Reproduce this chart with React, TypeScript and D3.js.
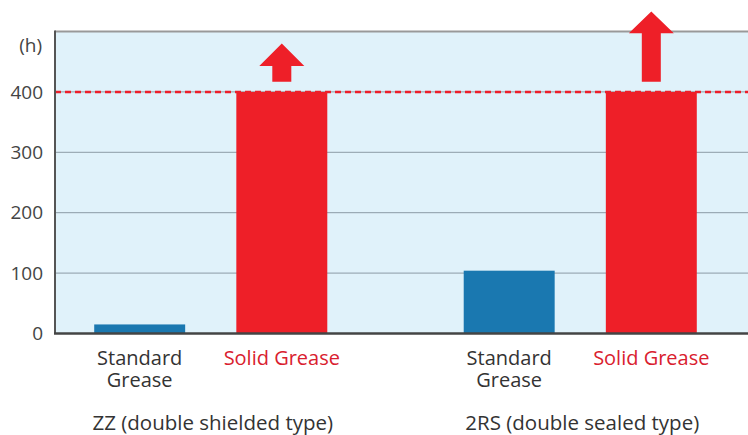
import React from "react";
import * as d3 from "d3";

const width = 748;
const height = 435;

const groups = ["ZZ", "2RS"];
const groupLabels = ["ZZ (double shielded type)", "2RS (double sealed type)"];
const greases = ["Standard", "Solid"];
const standardHours = [15, 104];
const solidHours = [400, 400];
// arrows drawn above the solid grease bars (value units)
const arrowBase = [417, 417];
const arrowNeck = [443, 497];
const arrowTip = [480, 533];
const yTicks = [0, 100, 200, 300, 400];
const gridTicks = [100, 200, 300, 400];

const plotLeft = 55;
const plotRight = 748;
const plotTop = 31.5;
const plotBottom = 333.5;
const font = "'Open Sans', 'DejaVu Sans', sans-serif";

const App = () => {
  const y = d3.scaleLinear().domain([0, 500]).range([plotBottom, plotTop]);
  // the original plot is cropped on the right, so the group band runs past it
  const x0 = d3.scaleBand().domain(groups).range([26, 765]);
  const x1 = d3
    .scaleBand()
    .domain(greases)
    .range([0, x0.bandwidth()])
    .paddingInner(0.36)
    .paddingOuter(0.48);

  const bars = groups.flatMap((g, i) => [
    { group: g, type: "Standard", value: standardHours[i] },
    { group: g, type: "Solid", value: solidHours[i] }
  ]);

  return (
    <svg
      width={width}
      height={height}
      style={{ position: "absolute", left: 0, top: 0, fontFamily: font }}
    >
      <rect
        x={plotLeft}
        y={plotTop}
        width={plotRight - plotLeft}
        height={plotBottom - plotTop}
        fill="#e0f2fa"
      />
      {gridTicks.map(t => (
        <line
          key={t}
          x1={plotLeft}
          x2={plotRight}
          y1={y(t)}
          y2={y(t)}
          stroke="#8c9ba5"
          strokeWidth={1}
        />
      ))}
      {bars.map((b, i) => (
        <rect
          key={i}
          x={x0(b.group)! + x1(b.type)!}
          y={y(b.value)}
          width={x1.bandwidth()}
          height={y(0) - y(b.value)}
          fill={b.type === "Solid" ? "#ee1f28" : "#1a78b0"}
        />
      ))}
      <line
        x1={plotLeft}
        x2={plotRight}
        y1={y(400)}
        y2={y(400)}
        stroke="#ec1f2a"
        strokeWidth={2.5}
        strokeDasharray="6 4"
      />
      <line x1={plotLeft} x2={plotRight} y1={plotTop} y2={plotTop} stroke="#999" strokeWidth={2} />
      <line x1={plotLeft} x2={plotLeft} y1={plotTop - 1} y2={plotBottom} stroke="#555" strokeWidth={2} />
      <line x1={plotLeft - 1} x2={plotRight} y1={plotBottom} y2={plotBottom} stroke="#444" strokeWidth={2.5} />
      {groups.map((g, i) => {
        const cx = x0(g)! + x1("Solid")! + x1.bandwidth() / 2;
        const hw = 22.5;
        const sw = 9.5;
        const path = [
          [cx - sw, y(arrowBase[i])],
          [cx - sw, y(arrowNeck[i])],
          [cx - hw, y(arrowNeck[i])],
          [cx, y(arrowTip[i])],
          [cx + hw, y(arrowNeck[i])],
          [cx + sw, y(arrowNeck[i])],
          [cx + sw, y(arrowBase[i])]
        ];
        return (
          <path key={g} d={d3.line()(path as [number, number][])! + "Z"} fill="#ee1f28" />
        );
      })}
      {yTicks.map(t => (
        <text
          key={t}
          x={43}
          y={y(t)}
          dy="0.35em"
          textAnchor="end"
          fontSize={19}
          fill="#444"
        >
          {t}
        </text>
      ))}
      <text x={42} y={45} dy="0.35em" textAnchor="end" fontSize={19} fill="#444">
        (h)
      </text>
      {groups.map((g, i) => {
        const sx = x0(g)! + x1("Standard")! + x1.bandwidth() / 2;
        const rx = x0(g)! + x1("Solid")! + x1.bandwidth() / 2;
        return (
          <g key={g} fontSize={20}>
            <text y={365} textAnchor="middle" fill="#333">
              <tspan x={sx}>Standard</tspan>
              <tspan x={sx} dy={22}>
                Grease
              </tspan>
            </text>
            <text x={rx} y={365} textAnchor="middle" fill="#d9202e">
              Solid Grease
            </text>
            <text
              x={x0(g)! + x0.bandwidth() / 2 + 2}
              y={430}
              textAnchor="middle"
              fontSize={20.5}
              fill="#333"
            >
              {groupLabels[i]}
            </text>
          </g>
        );
      })}
    </svg>
  );
};

export default App;
